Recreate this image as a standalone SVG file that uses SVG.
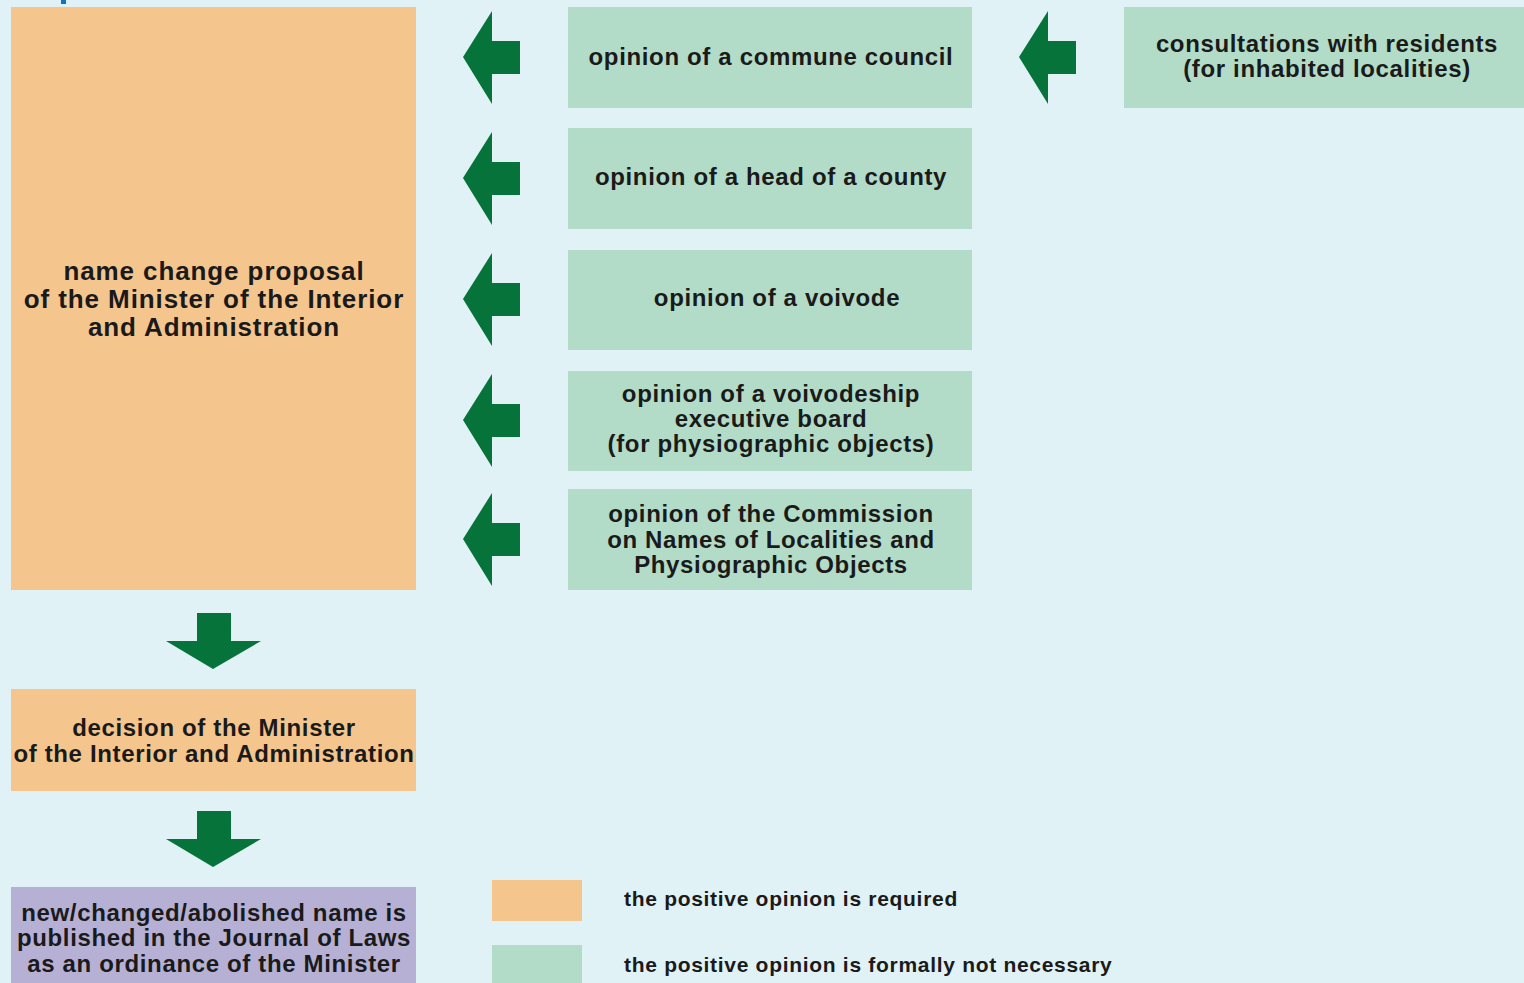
<svg xmlns="http://www.w3.org/2000/svg" width="1524" height="983" viewBox="0 0 1524 983">
<style>
.bg{fill:#e0f2f5}
.or{fill:#f5c58e}
.gr{fill:#b3dcc8}
.pu{fill:#b6b0d5}
.ar{fill:#06733a}
text{font-family:"Liberation Sans",Arial,sans-serif;font-weight:bold;fill:#1a1a1a;text-anchor:middle}
.t24{font-size:26px;letter-spacing:0.9px}
.t23{font-size:24px;letter-spacing:0.65px}
.lg{font-size:21px;letter-spacing:0.7px;text-anchor:start}
</style>
<defs>
<polygon id="la" points="463,57 492,11 492,41 520,41 520,74 492,74 492,104"/>
<polygon id="da" points="197,613 231,613 231,641 261,641 213,669 166,641 197,641"/>
</defs>
<rect class="bg" x="0" y="0" width="1524" height="983"/>
<rect x="61" y="0" width="5" height="4" fill="#0a77c4"/>
<g id="connectors">
<use href="#la" class="ar"/>
<use href="#la" class="ar" y="121"/>
<use href="#la" class="ar" y="242"/>
<use href="#la" class="ar" y="363"/>
<use href="#la" class="ar" y="482"/>
<use href="#la" class="ar" x="556"/>
<use href="#da" class="ar"/>
<use href="#da" class="ar" y="198"/>
</g>
<g id="proposal">
<rect class="or" x="11" y="7" width="405" height="583"/>
<text class="t24" x="214" y="280">name change proposal</text>
<text class="t24" x="214" y="308">of the Minister of the Interior</text>
<text class="t24" x="214" y="336">and Administration</text>
</g>
<g id="commune">
<rect class="gr" x="568" y="7" width="404" height="101"/>
<text class="t23" x="771" y="65">opinion of a commune council</text>
</g>
<g id="residents">
<rect class="gr" x="1124" y="7" width="400" height="101"/>
<text class="t23" x="1327" y="52">consultations with residents</text>
<text class="t23" x="1327" y="77">(for inhabited localities)</text>
</g>
<g id="county">
<rect class="gr" x="568" y="128" width="404" height="101"/>
<text class="t23" x="771" y="185">opinion of a head of a county</text>
</g>
<g id="voivode">
<rect class="gr" x="568" y="250" width="404" height="100"/>
<text class="t23" x="777" y="306">opinion of a voivode</text>
</g>
<g id="board">
<rect class="gr" x="568" y="371" width="404" height="100"/>
<text class="t23" x="771" y="402">opinion of a voivodeship</text>
<text class="t23" x="771" y="427">executive board</text>
<text class="t23" x="771" y="452">(for physiographic objects)</text>
</g>
<g id="commission">
<rect class="gr" x="568" y="489" width="404" height="101"/>
<text class="t23" x="771" y="522">opinion of the Commission</text>
<text class="t23" x="771" y="548">on Names of Localities and</text>
<text class="t23" x="771" y="573">Physiographic Objects</text>
</g>
<g id="decision">
<rect class="or" x="11" y="689" width="405" height="102"/>
<text class="t23" x="214" y="736">decision of the Minister</text>
<text class="t23" x="214" y="762">of the Interior and Administration</text>
</g>
<g id="published">
<rect class="pu" x="11" y="887" width="405" height="100"/>
<text class="t23" x="214" y="921">new/changed/abolished name is</text>
<text class="t23" x="214" y="946">published in the Journal of Laws</text>
<text class="t23" x="214" y="972">as an ordinance of the Minister</text>
</g>
<g id="legend">
<rect class="or" x="492" y="880" width="90" height="41"/>
<text class="lg" x="624" y="906">the positive opinion is required</text>
<rect class="gr" x="492" y="945" width="90" height="42"/>
<text class="lg" x="624" y="972">the positive opinion is formally not necessary</text>
</g>
</svg>
